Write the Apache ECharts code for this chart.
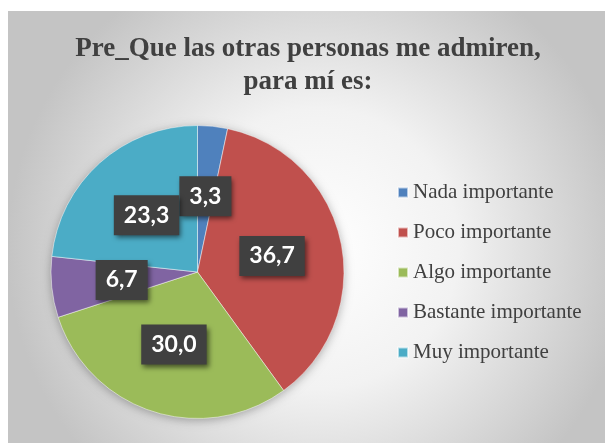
<!DOCTYPE html>
<html>
<head>
<meta charset="utf-8">
<script src="https://cdn.jsdelivr.net/npm/echarts@6/dist/echarts.min.js"></script>
<style>
  html, body { margin: 0; padding: 0; background: #fff; }
  #chart { width: 605px; height: 443px; }
</style>
</head>
<body>
<div id="chart"></div>
<script>
// categories and values (percent)
const categories = ['Nada importante', 'Poco importante', 'Algo importante', 'Bastante importante', 'Muy importante']
const values = [3.3, 36.7, 30.0, 6.7, 23.3]
const colors = ['#4F81BD', '#C0504D', '#9BBB59', '#8064A2', '#4BACC6']
const titleText = 'Pre_Que las otras personas me admiren,\npara mí es:'

const chart = echarts.init(document.getElementById('chart'))

const option = {
  animation: false,
  backgroundColor: '#ffffff',
  graphic: [
    {
      // grey panel with the radial fade
      type: 'rect',
      left: 8, top: 11,
      shape: { width: 597, height: 432 },
      style: {
        fill: {
          type: 'radial', x: 0.52, y: 0.55, r: 0.72,
          colorStops: [
            { offset: 0, color: '#ffffff' },
            { offset: 0.45, color: '#f2f2f2' },
            { offset: 1, color: '#c4c4c4' },
          ],
        },
      },
      z: -10,
    },
  ],
  title: {
    text: titleText,
    left: 308,
    top: 33,
    padding: 0,
    textAlign: 'center',
    textStyle: {
      fontFamily: '"Liberation Serif", "Times New Roman", serif',
      fontWeight: 'bold',
      fontSize: 27,
      lineHeight: 33,
      color: '#404040',
    },
  },
  legend: {
    orient: 'vertical',
    left: 397,
    top: 182,
    padding: 0,
    icon: 'rect',
    itemWidth: 10,
    itemHeight: 10,
    itemGap: 19,
    data: categories,
    textStyle: {
      fontFamily: '"Liberation Serif", "Times New Roman", serif',
      fontSize: 21,
      lineHeight: 21,
      color: '#404040',
    },
  },
  series: [
    {
      // soft shadow behind the pie
      type: 'pie',
      silent: true,
      center: [197.5, 272],
      radius: 146.5,
      label: { show: false },
      labelLine: { show: false },
      itemStyle: { color: '#bbbbbb', shadowBlur: 10, shadowColor: 'rgba(0,0,0,0.3)', shadowOffsetY: 2 },
      data: [{ value: 1, name: '' }],
      z: 1,
    },
    {
      type: 'pie',
      center: [197.5, 272],
      radius: 146.5,
      startAngle: 90,
      clockwise: true,
      z: 2,
      itemStyle: { borderColor: 'rgba(255,255,255,0.6)', borderWidth: 0.8 },
      label: {
        show: true,
        position: 'inside',
        formatter: p => p.value.toFixed(1).replace('.', ','),
        fontFamily: 'Lato, "Open Sans", sans-serif',
        fontWeight: 'bold',
        fontSize: 23,
        lineHeight: 23,
        color: '#ffffff',
        backgroundColor: '#404040',
        padding: [9, 10, 8, 10],
        shadowColor: 'rgba(0,0,0,0.55)',
        shadowBlur: 5,
        shadowOffsetX: 2,
        shadowOffsetY: 3,
      },
      labelLine: { show: false },
      data: categories.map((c, i) => ({ name: c, value: values[i], itemStyle: { color: colors[i] } })),
    },
  ],
}

chart.setOption(option)
</script>
</body>
</html>
